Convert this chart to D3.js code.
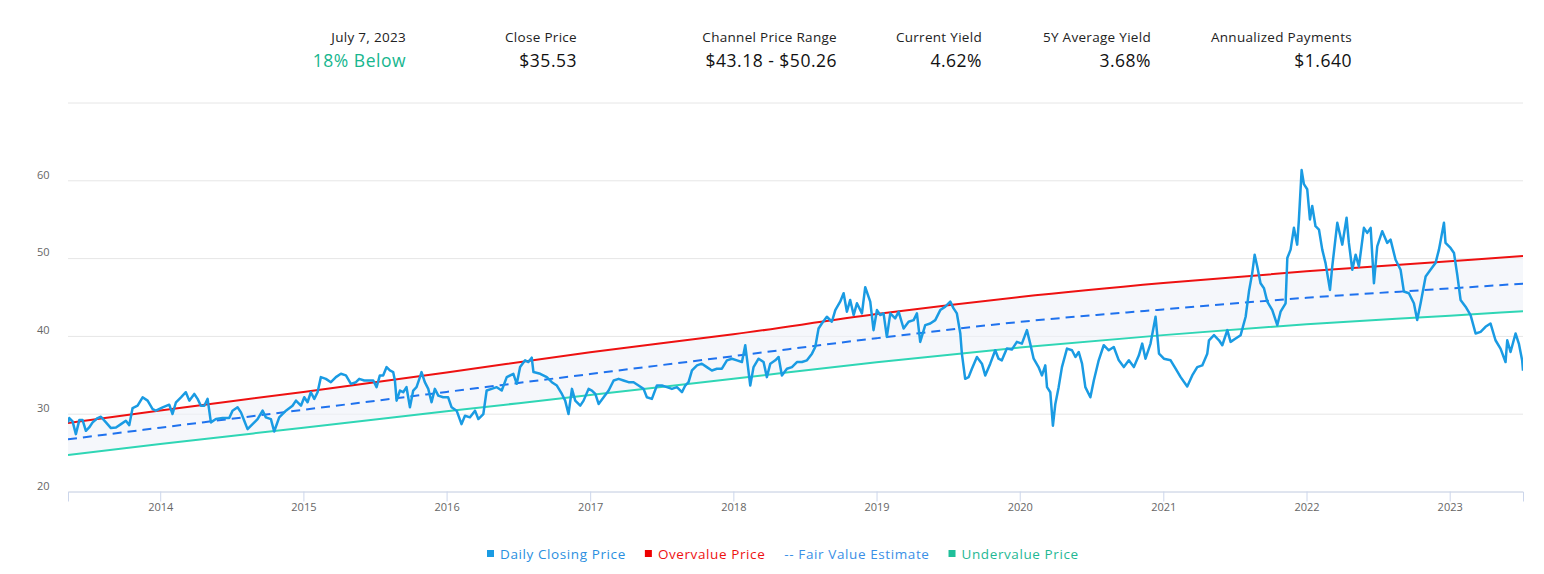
<!DOCTYPE html>
<html>
<head>
<meta charset="utf-8">
<script src="https://cdn.jsdelivr.net/npm/d3@7"></script>
<style>
  html, body { margin: 0; padding: 0; background: #fff; }
  #chart { width: 1544px; height: 574px; }
  #chart text { font-family: "Open Sans", "Noto Sans", sans-serif; }
</style>
</head>
<body>
<div id="chart"></div>
<script>
// header block
const headerLabels = ["July 7, 2023", "Close Price", "Channel Price Range", "Current Yield", "5Y Average Yield", "Annualized Payments"];
const headerValues = ["18% Below", "$35.53", "$43.18 - $50.26", "4.62%", "3.68%", "$1.640"];

// axis ticks
const yGridValues = [20, 30, 40, 50, 60, 70];
const yTickLabels = [20, 30, 40, 50, 60];

// channel lines, read at year marks (decimal years)
const channelYears = [2013.356, 2014, 2015, 2016, 2017, 2018, 2019, 2020, 2021, 2022, 2023, 2023.512];
const overvalue   = [28.8, 30.4, 32.8, 35.3, 37.9, 40.2, 42.8, 45.0, 46.8, 48.3, 49.6, 50.26];
const fairValue   = [26.7, 28.2, 30.5, 32.8, 35.1, 37.4, 39.7, 41.8, 43.4, 44.9, 46.1, 46.72];
const undervalue  = [24.7, 26.1, 28.2, 30.3, 32.4, 34.5, 36.6, 38.5, 40.1, 41.5, 42.6, 43.18];

// daily closing price (sampled), decimal years
const priceYears = [
  2013.356, 2013.365, 2013.388, 2013.411, 2013.435, 2013.458, 2013.481, 2013.504, 2013.528, 2013.563,
  2013.586, 2013.621, 2013.656, 2013.691, 2013.726, 2013.760, 2013.784, 2013.807, 2013.842, 2013.877,
  2013.912, 2013.947, 2013.970, 2014.017, 2014.063, 2014.086, 2014.110, 2014.145, 2014.179, 2014.203,
  2014.238, 2014.261, 2014.284, 2014.308, 2014.331, 2014.354, 2014.389, 2014.436, 2014.482, 2014.505,
  2014.540, 2014.564, 2014.587, 2014.610, 2014.645, 2014.680, 2014.715, 2014.738, 2014.773, 2014.796,
  2014.831, 2014.878, 2014.924, 2014.948, 2014.983, 2015.006, 2015.029, 2015.052, 2015.076, 2015.099,
  2015.122, 2015.157, 2015.192, 2015.227, 2015.262, 2015.297, 2015.332, 2015.367, 2015.390, 2015.425,
  2015.453, 2015.488, 2015.511, 2015.534, 2015.557, 2015.581, 2015.604, 2015.627, 2015.639, 2015.651,
  2015.674, 2015.697, 2015.720, 2015.744, 2015.767, 2015.790, 2015.814, 2015.825, 2015.848, 2015.872,
  2015.895, 2015.918, 2015.942, 2015.976, 2016.011, 2016.035, 2016.070, 2016.104, 2016.128, 2016.163,
  2016.198, 2016.221, 2016.256, 2016.279, 2016.314, 2016.349, 2016.384, 2016.419, 2016.465, 2016.489,
  2016.512, 2016.547, 2016.570, 2016.593, 2016.605, 2016.652, 2016.698, 2016.733, 2016.768, 2016.803,
  2016.826, 2016.849, 2016.873, 2016.896, 2016.931, 2016.954, 2016.989, 2017.012, 2017.036, 2017.059,
  2017.094, 2017.129, 2017.164, 2017.199, 2017.233, 2017.268, 2017.303, 2017.338, 2017.373, 2017.396,
  2017.431, 2017.466, 2017.501, 2017.536, 2017.571, 2017.606, 2017.641, 2017.664, 2017.687, 2017.711,
  2017.746, 2017.780, 2017.815, 2017.850, 2017.885, 2017.920, 2017.955, 2017.990, 2018.025, 2018.060,
  2018.083, 2018.095, 2018.118, 2018.141, 2018.176, 2018.211, 2018.234, 2018.258, 2018.293, 2018.316,
  2018.339, 2018.374, 2018.409, 2018.444, 2018.479, 2018.514, 2018.549, 2018.572, 2018.595, 2018.618,
  2018.653, 2018.688, 2018.712, 2018.746, 2018.770, 2018.793, 2018.816, 2018.840, 2018.863, 2018.898,
  2018.921, 2018.956, 2018.979, 2019.003, 2019.026, 2019.049, 2019.072, 2019.096, 2019.130, 2019.154,
  2019.189, 2019.224, 2019.259, 2019.282, 2019.305, 2019.340, 2019.375, 2019.410, 2019.445, 2019.480,
  2019.515, 2019.538, 2019.561, 2019.585, 2019.596, 2019.619, 2019.643, 2019.666, 2019.701, 2019.736,
  2019.759, 2019.794, 2019.829, 2019.852, 2019.875, 2019.910, 2019.945, 2019.980, 2020.015, 2020.050,
  2020.073, 2020.097, 2020.131, 2020.155, 2020.178, 2020.190, 2020.213, 2020.231, 2020.248, 2020.271,
  2020.294, 2020.329, 2020.364, 2020.388, 2020.411, 2020.434, 2020.457, 2020.492, 2020.516, 2020.550,
  2020.585, 2020.620, 2020.655, 2020.690, 2020.725, 2020.760, 2020.795, 2020.830, 2020.853, 2020.876,
  2020.911, 2020.946, 2020.970, 2021.004, 2021.051, 2021.086, 2021.121, 2021.167, 2021.202, 2021.237,
  2021.272, 2021.307, 2021.319, 2021.354, 2021.389, 2021.412, 2021.447, 2021.470, 2021.505, 2021.540,
  2021.575, 2021.598, 2021.621, 2021.638, 2021.656, 2021.679, 2021.703, 2021.726, 2021.761, 2021.796,
  2021.819, 2021.854, 2021.866, 2021.889, 2021.912, 2021.935, 2021.947, 2021.966, 2021.982, 2022.005,
  2022.024, 2022.040, 2022.063, 2022.087, 2022.110, 2022.133, 2022.164, 2022.180, 2022.215, 2022.250,
  2022.280, 2022.296, 2022.320, 2022.343, 2022.366, 2022.401, 2022.424, 2022.448, 2022.471, 2022.494,
  2022.529, 2022.564, 2022.587, 2022.622, 2022.657, 2022.680, 2022.715, 2022.750, 2022.773, 2022.797,
  2022.832, 2022.866, 2022.901, 2022.925, 2022.960, 2022.971, 2023.006, 2023.030, 2023.053, 2023.076,
  2023.111, 2023.146, 2023.181, 2023.216, 2023.250, 2023.285, 2023.320, 2023.355, 2023.390, 2023.402,
  2023.425, 2023.460, 2023.483, 2023.506, 2023.512
];
const priceValues = [
  28.88, 29.44, 29.01, 27.37, 29.18, 29.18, 27.80, 28.23, 28.88, 29.44,
  29.61, 28.88, 28.15, 28.23, 28.66, 29.09, 28.53, 30.73, 31.03, 32.11,
  31.68, 30.60, 30.39, 30.82, 31.16, 29.96, 31.47, 32.11, 32.76, 31.68,
  32.54, 31.90, 31.03, 31.03, 31.90, 28.88, 29.31, 29.44, 29.44, 30.39,
  30.82, 30.17, 29.09, 28.02, 28.66, 29.31, 30.39, 29.53, 29.31, 27.71,
  29.53, 30.39, 31.03, 31.68, 31.03, 32.11, 31.47, 32.76, 31.90, 32.76,
  34.70, 34.48, 34.05, 34.70, 35.13, 34.92, 33.84, 34.05, 34.48, 34.27,
  34.27, 34.27, 33.41, 34.92, 34.92, 35.99, 35.56, 35.35, 34.27, 31.68,
  32.98, 32.76, 33.41, 30.82, 32.98, 33.41, 34.70, 35.35, 34.05, 33.19,
  31.47, 33.19, 32.33, 32.11, 32.11, 30.82, 30.39, 28.66, 29.74, 29.53,
  30.39, 29.31, 29.96, 32.98, 33.19, 33.41, 32.98, 34.70, 35.13, 33.84,
  35.99, 36.86, 36.64, 37.20, 35.35, 35.13, 34.70, 34.05, 33.62, 32.54,
  31.68, 29.96, 33.19, 31.68, 31.03, 31.68, 33.19, 32.98, 32.54, 31.25,
  32.11, 32.98, 34.27, 34.48, 34.27, 34.05, 34.05, 33.62, 33.19, 32.11,
  31.90, 33.62, 33.62, 33.41, 33.19, 33.41, 32.76, 33.62, 34.05, 35.56,
  36.21, 36.43, 35.99, 35.56, 35.78, 35.78, 36.86, 37.07, 36.86, 36.64,
  38.80, 37.07, 33.62, 35.99, 37.07, 36.64, 34.70, 36.43, 36.86, 37.29,
  34.92, 35.78, 35.99, 36.64, 36.64, 36.86, 37.72, 38.58, 40.95, 41.60,
  42.46, 41.82, 43.32, 44.40, 45.48, 43.11, 44.62, 42.68, 44.19, 42.89,
  46.26, 44.40, 40.74, 43.32, 42.68, 42.89, 39.87, 42.89, 42.25, 43.11,
  40.95, 41.82, 42.03, 42.89, 39.23, 41.38, 41.60, 42.03, 43.32, 43.76,
  44.40, 43.54, 42.89, 40.31, 37.72, 34.48, 34.70, 35.78, 37.29, 36.43,
  34.92, 36.43, 38.15, 37.07, 36.86, 38.37, 38.24, 39.23, 39.01, 40.74,
  39.01, 37.07, 35.99, 34.92, 36.21, 33.41, 32.76, 28.45, 31.25, 33.41,
  35.99, 38.37, 38.15, 37.29, 37.93, 36.43, 33.41, 32.11, 34.27, 36.86,
  38.80, 38.15, 38.58, 36.86, 35.99, 36.86, 35.99, 37.50, 39.01, 37.07,
  39.01, 42.46, 37.72, 37.07, 36.86, 35.78, 34.70, 33.49, 34.92, 35.99,
  36.21, 37.72, 39.44, 40.09, 39.44, 38.80, 40.74, 39.23, 39.66, 40.09,
  42.46, 45.70, 48.07, 50.44, 48.93, 46.77, 46.13, 44.40, 43.32, 41.38,
  43.11, 44.19, 50.01, 51.09, 53.89, 51.73, 54.97, 61.31, 59.50, 58.85,
  54.97, 56.69, 54.10, 53.67, 51.09, 49.36, 45.91, 48.93, 54.54, 51.73,
  55.18, 51.95, 48.50, 50.44, 48.93, 53.89, 53.24, 53.89, 46.77, 51.52,
  53.46, 51.95, 52.38, 49.79, 48.50, 45.70, 45.48, 44.19, 42.03, 44.19,
  47.64, 48.50, 49.36, 51.09, 54.54, 51.95, 51.30, 50.66, 47.85, 44.62,
  43.76, 42.68, 40.31, 40.52, 41.17, 41.60, 39.44, 38.37, 36.64, 39.44,
  37.93, 40.31, 39.01, 36.86, 35.53
];

const legendNames = ["Daily Closing Price", "Overvalue Price", "Fair Value Estimate", "Undervalue Price"];

class ChannelChart {
    constructor() {
        this.width = 1544;
        this.height = 574;
        this.left = 68;
        this.right = 1523;
        this.top = 102.5;
        this.bottom = 491.5;

        this.colors = {
            price: "#1a9be3",
            over: "#ee1111",
            fair: "#1f72ee",
            under: "#2fd6b5",
            band: "#eef1f9"
        };
        this.svg = null;
    }

    toDate(t) {                                   // decimal year -> Date
        const yr = Math.floor(t);
        const a = Date.UTC(yr, 0, 1), b = Date.UTC(yr + 1, 0, 1);
        return new Date(a + (t - yr) * (b - a));
    }

    init() {
        this.svg = d3.select('#chart').append('svg')
            .attr('width', this.width)
            .attr('height', this.height);

        this.price = priceYears.map((t, i) => ({ date: this.toDate(t), v: priceValues[i] }));
        this.channel = channelYears.map((t, i) => ({
            date: this.toDate(t), over: overvalue[i], fair: fairValue[i], under: undervalue[i]
        }));

        this.x = d3.scaleUtc()
            .domain([this.price[0].date, this.price[this.price.length - 1].date])
            .range([this.left, this.right]);
        this.y = d3.scaleLinear().domain([20, 70]).range([this.bottom, this.top]);

        this.drawHeader();
        this.drawAxes();
        this.drawSeries();
        this.drawLegend();
    }

    drawHeader() {
        const rightEdges = [406, 577, 837, 982, 1151, 1352];
        const g = this.svg.append('g');
        g.selectAll('text.lbl')
            .data(headerLabels)
            .join('text')
            .attr('class', 'lbl')
            .attr('x', (d, i) => rightEdges[i])
            .attr('y', 42)
            .attr('text-anchor', 'end')
            .style('font-size', '13.5px')
            .style('letter-spacing', '0.3px')
            .attr('fill', '#222')
            .text(d => d);
        g.selectAll('text.val')
            .data(headerValues)
            .join('text')
            .attr('class', 'val')
            .attr('x', (d, i) => rightEdges[i])
            .attr('y', 67)
            .attr('text-anchor', 'end')
            .style('font-size', '17.5px')
            .style('letter-spacing', '0.5px')
            .style('font-weight', 500)
            .attr('fill', (d, i) => i === 0 ? '#17b68e' : '#111')
            .text(d => d);
    }

    drawAxes() {
        const w = this.right - this.left;

        // horizontal grid
        this.svg.append('g')
            .attr('transform', `translate(${this.left},0)`)
            .call(d3.axisLeft(this.y).tickValues(yGridValues).tickSize(-w).tickFormat(''))
            .call(g => g.select('.domain').remove())
            .call(g => g.selectAll('line').attr('stroke', '#e6e6e6'));

        // y labels sit just above their grid line
        this.svg.append('g')
            .attr('transform', `translate(${this.left},0)`)
            .call(d3.axisLeft(this.y).tickValues(yTickLabels).tickSize(0))
            .call(g => g.select('.domain').remove())
            .call(g => g.selectAll('text')
                .attr('x', 37 - this.left)
                .attr('dy', '-0.2em')
                .attr('text-anchor', 'start')
                .attr('fill', '#666')
                .style('font-size', '11px'));

        this.svg.append('g')
            .attr('transform', `translate(0,${this.bottom})`)
            .call(d3.axisBottom(this.x).ticks(d3.utcYear.every(1)).tickFormat(d3.utcFormat('%Y'))
                .tickSize(10).tickPadding(2))
            .call(g => g.select('.domain').attr('stroke', '#ccd6eb'))
            .call(g => g.selectAll('line').attr('stroke', '#ccd6eb'))
            .call(g => g.selectAll('text').attr('fill', '#666').style('font-size', '11px'));
    }

    drawSeries() {
        const x = this.x, y = this.y;
        const c = this.colors;

        this.svg.append('clipPath').attr('id', 'plot')
            .append('rect')
            .attr('x', this.left).attr('y', 0)
            .attr('width', this.right - this.left).attr('height', this.bottom);

        const g = this.svg.append('g').attr('clip-path', 'url(#plot)');

        const band = d3.area()
            .x(d => x(d.date)).y0(d => y(d.under)).y1(d => y(d.over))
            .curve(d3.curveMonotoneX);
        g.append('path').datum(this.channel)
            .attr('d', band)
            .attr('fill', c.band)
            .attr('fill-opacity', 0.6);

        const chLine = key => d3.line().x(d => x(d.date)).y(d => y(d[key])).curve(d3.curveMonotoneX);

        g.append('path').datum(this.channel).attr('d', chLine('under'))
            .attr('fill', 'none').attr('stroke', c.under).attr('stroke-width', 2);
        g.append('path').datum(this.channel).attr('d', chLine('over'))
            .attr('fill', 'none').attr('stroke', c.over).attr('stroke-width', 2);
        g.append('path').datum(this.channel).attr('d', chLine('fair'))
            .attr('fill', 'none').attr('stroke', c.fair).attr('stroke-width', 2)
            .attr('stroke-dasharray', '9,6');

        g.append('path').datum(this.price)
            .attr('d', d3.line().x(d => x(d.date)).y(d => y(d.v)))
            .attr('fill', 'none')
            .attr('stroke', c.price)
            .attr('stroke-width', 2.5)
            .attr('stroke-linejoin', 'round');
    }

    drawLegend() {
        const marks = [
            { color: '#1a9be3', text: '#2a8fe0', box: true },
            { color: '#ee0000', text: '#ee1111', box: true },
            { color: '#3b8fe6', text: '#3b8fe6', box: false },
            { color: '#1fbf9a', text: '#1fb894', box: true }
        ];
        const g = this.svg.append('g').attr('transform', 'translate(487,554)');
        let cx = 0;
        legendNames.forEach((name, i) => {
            const m = marks[i];
            const item = g.append('g').attr('transform', `translate(${cx},0)`);
            let tx = 0;
            if (m.box) {
                item.append('rect').attr('x', 0).attr('y', -4).attr('width', 7).attr('height', 7)
                    .attr('fill', m.color);
                tx = 13;
            }
            const t = item.append('text')
                .attr('x', tx).attr('y', 4.5)
                .style('font-size', '13.5px')
                .style('letter-spacing', '0.6px')
                .attr('fill', m.text)
                .text(m.box ? name : '-- ' + name);
            cx += tx + t.node().getComputedTextLength() + 19;
        });
    }
}

const chart = new ChannelChart();
chart.init();
</script>
</body>
</html>
